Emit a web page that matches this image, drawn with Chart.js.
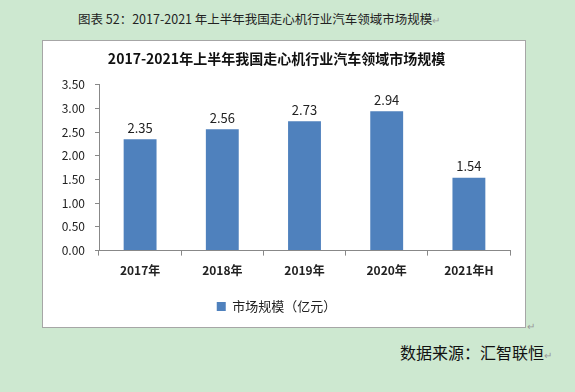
<!DOCTYPE html>
<html>
<head>
<meta charset="utf-8">
<script src="https://cdn.jsdelivr.net/npm/chart.js@4"></script>
<style>
  html, body { margin: 0; padding: 0; }
  body { width: 575px; height: 392px; background: #cde8d0; position: relative; overflow: hidden;
         font-family: "Noto Sans CJK SC", "Noto Sans", sans-serif; }
  .caption { position: absolute; top: 9px; left: 78px; font-size: 12.5px; color: #222; white-space: nowrap; }
  .box { position: absolute; left: 42px; top: 40px; width: 482px; height: 286px; background: #fff; border: 1px solid #a6a6a6; }
  .source { position: absolute; left: 400px; top: 340px; font-size: 16px; color: #111; }
  .mark { color: #999; font-size: 10px; }
</style>
</head>
<body>
<div class="caption">图表 52：2017-2021 年上半年我国走心机行业汽车领域市场规模<span class="mark">↵</span></div>
<div class="box"><canvas id="chart" width="482" height="286"></canvas></div>
<div class="mark" style="position:absolute;left:527px;top:318px">↵</div>
<div class="source">数据来源：汇智联恒<span class="mark">↵</span></div>
<script>
const categories = ['2017年', '2018年', '2019年', '2020年', '2021年H'];
const marketSize = [2.35, 2.56, 2.73, 2.94, 1.54];
const seriesName = '市场规模（亿元）';
const chartTitle = '2017-2021年上半年我国走心机行业汽车领域市场规模';

const font = '"Noto Sans CJK SC", "Noto Sans", sans-serif';

const valueLabels = {
  id: 'valueLabels',
  afterDatasetsDraw(chart) {
    const ctx = chart.ctx;
    const meta = chart.getDatasetMeta(0);
    ctx.save();
    ctx.font = '13px ' + font;
    ctx.fillStyle = '#222';
    ctx.textAlign = 'center';
    ctx.textBaseline = 'bottom';
    meta.data.forEach((bar, i) => {
      ctx.fillText(marketSize[i].toFixed(2), bar.x, bar.y - 5);
    });
    ctx.restore();
  }
};

new Chart(document.getElementById('chart'), {
  type: 'bar',
  data: {
    labels: categories,
    datasets: [{
      label: seriesName,
      data: marketSize,
      backgroundColor: '#4f81bd',
      barPercentage: 0.4,
      categoryPercentage: 1
    }]
  },
  options: {
    responsive: false,
    animation: false,
    layout: { padding: { left: 0, right: 15, top: 0, bottom: 4 } },
    plugins: {
      title: { display: true, text: chartTitle, color: '#111', font: { family: font, size: 14, weight: 'bold' }, padding: { top: 9, bottom: 18 } },
      legend: {
        position: 'bottom',
        labels: { boxWidth: 9, boxHeight: 9, color: '#222', font: { family: font, size: 13 }, padding: 14 }
      },
      tooltip: { enabled: false }
    },
    scales: {
      x: {
        grid: { display: true, drawOnChartArea: false, drawTicks: true, tickLength: 5, color: '#888' },
        border: { color: '#888' },
        ticks: { color: '#222', font: { family: font, size: 12, weight: 'bold' }, padding: 8 }
      },
      y: {
        min: 0, max: 3.5,
        afterFit(scale) { scale.width = 56; },
        grid: { display: true, drawOnChartArea: false, drawTicks: true, tickLength: 4, color: '#888' },
        border: { color: '#888' },
        ticks: { stepSize: 0.5, color: '#222', font: { family: font, size: 12 }, padding: 10,
                 callback: v => Number(v).toFixed(2) }
      }
    }
  },
  plugins: [valueLabels]
});
</script>
</body>
</html>
